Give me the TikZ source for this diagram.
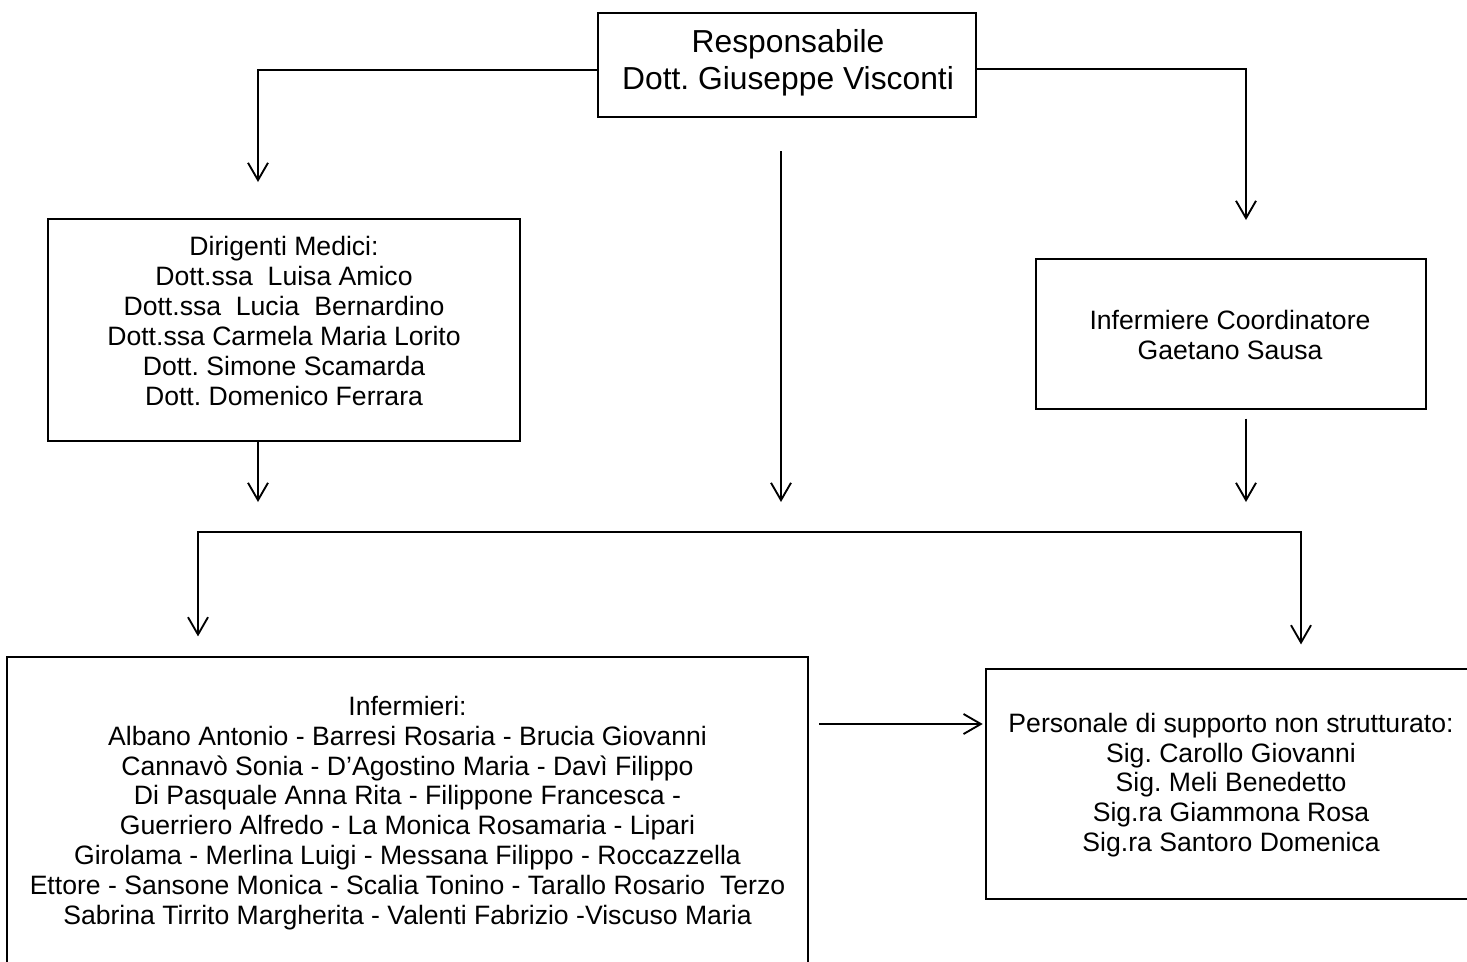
\documentclass[tikz,border=0pt]{standalone}
\usepackage{fontspec}
\setmainfont{Liberation Sans}
\usetikzlibrary{arrows.meta}
\frenchspacing
\begin{document}
\begin{tikzpicture}[x=0.75pt,y=-0.75pt,
  box/.style={draw, line width=0.9pt, inner sep=0pt},
  txt/.style={align=center, inner sep=0pt, font=\fontsize{19.95}{22.4}\selectfont\frenchspacing},
  bigtxt/.style={align=center, inner sep=0pt, font=\fontsize{23.85}{27.75}\selectfont\frenchspacing},
  conn/.style={line width=1.4pt},
  barb/.tip={Straight Barb[length=13pt,width=15pt,line width=1.4pt]},
  arr/.style={conn, -barb},
  darr/.style={conn, barb-barb}
]
\useasboundingbox (0,0) rectangle (1467,961);
\clip (0,0) rectangle (1467,961);

% boxes
\node[box, minimum width=283.5pt, minimum height=78pt]   (bTop)   at (787,65) {};
\node[box, minimum width=354pt,   minimum height=166.5pt] (bDir)   at (284,330) {};
\node[box, minimum width=292.5pt, minimum height=112.5pt] (bCoord) at (1231,334) {};
\node[box, minimum width=600.75pt,minimum height=249.75pt](bInf)   at (407.5,823.5) {};
\node[box, minimum width=370.5pt, minimum height=172.5pt] (bPers)  at (1233,784) {};

% texts
\node[bigtxt] (tTop) at (788,63) {Responsabile\\Dott. Giuseppe Visconti};
\node[txt] (tDir) at (284,321) {Dirigenti Medici:\\Dott.ssa\ \ Luisa Amico\\Dott.ssa\ \ Lucia\ \ Bernardino\\Dott.ssa Carmela Maria Lorito\\Dott. Simone Scamarda\\Dott. Domenico Ferrara};
\node[txt] (tCoord) at (1230,335) {Infermiere Coordinatore\\Gaetano Sausa};
\node[txt] (tInf) at (407.5,813) {Infermieri:\\Albano Antonio - Barresi Rosaria - Brucia Giovanni\\Cannavò Sonia - D’Agostino Maria - Davì Filippo\\Di Pasquale Anna Rita - Filippone Francesca -\\Guerriero Alfredo - La Monica Rosamaria - Lipari\\Girolama - Merlina Luigi - Messana Filippo - Roccazzella\\Ettore - Sansone Monica - Scalia Tonino - Tarallo Rosario\ \ Terzo\\Sabrina Tirrito Margherita - Valenti Fabrizio -Viscuso Maria};
\node[txt] (tPers) at (1231,785) {Personale di supporto non strutturato:\\Sig. Carollo Giovanni\\Sig. Meli Benedetto\\Sig.ra Giammona Rosa\\Sig.ra Santoro Domenica};

% free ends
\coordinate (lTip) at (258,182);
\coordinate (rTip) at (1246,220);
\coordinate (mS) at (781,151);
\coordinate (mT) at (781,502);
\coordinate (dTip) at (258,502);
\coordinate (cTip) at (1246,502);
\coordinate (busL) at (198,532);
\coordinate (busR) at (1301,532);
\coordinate (hA) at (0,724);

% connectors
\draw[arr] ([yshift=-3.75pt]bTop.west) -| (lTip);
\draw[arr] ([yshift=-3pt]bTop.east) -| (rTip);
\draw[arr] (mS) -- (mT);
\draw[arr] (bDir.south -| dTip) -- (dTip);
\draw[arr, shorten <=6.75pt] (bCoord.south -| cTip) -- (cTip);
\draw[darr, shorten <=15pt, shorten >=18pt] (bInf.north -| busL) -- (busL) -- (busR) -- (bPers.north -| busR);
\draw[arr, shorten <=8pt, shorten >=2pt] (bInf.east |- hA) -- (bPers.west |- hA);
\end{tikzpicture}
\end{document}
